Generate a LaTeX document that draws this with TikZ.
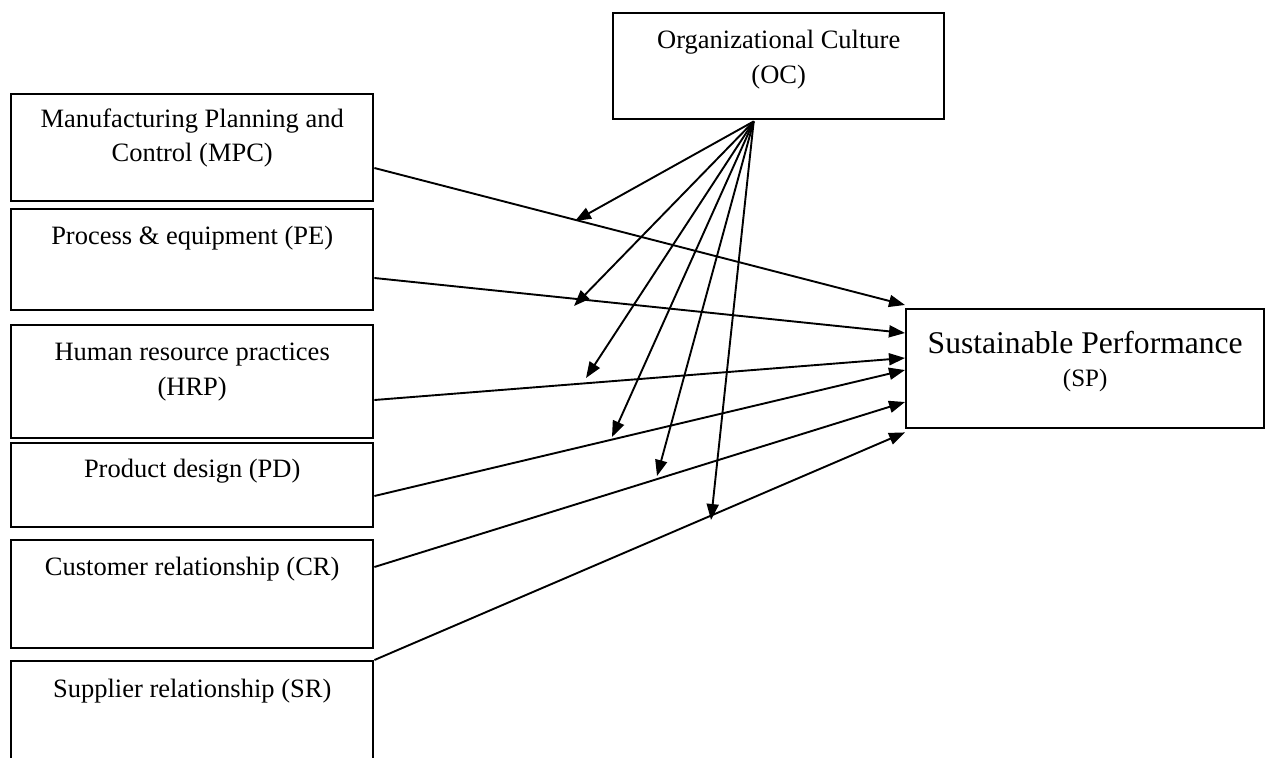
\documentclass[tikz,border=0pt]{standalone}
\usepackage{fontspec}
\setmainfont{Liberation Serif}
\usetikzlibrary{arrows.meta,calc}
\begin{document}
\begin{tikzpicture}[x=1pt,y=-1pt,
  box/.style={draw, line width=2.4pt, inner sep=0pt, anchor=north west},
  txt/.style={anchor=base, inner sep=0pt, font=\fontsize{26.5}{32}\selectfont},
  conn/.style={line width=1.9pt, -{Triangle[length=16pt,width=12pt]}}]
\path[fill=white, use as bounding box] (0,0) rectangle (1265,757);

% left boxes
\node[box, minimum width=362pt, minimum height=107pt] (mpc) at (10,93) {};
\node[box, minimum width=362pt, minimum height=101pt] (pe) at (10,208) {};
\node[box, minimum width=362pt, minimum height=113pt] (hrp) at (10,324) {};
\node[box, minimum width=362pt, minimum height=84pt] (pd) at (10,442) {};
\node[box, minimum width=362pt, minimum height=108pt] (cr) at (10,539) {};
\node[box, minimum width=362pt, minimum height=115pt] (sr) at (10,660) {};

% top and right boxes
\node[box, minimum width=331pt, minimum height=106pt] (oc) at (612,12) {};
\node[box, minimum width=358pt, minimum height=119pt] (sp) at (905,308) {};

% texts
\node[txt] (mpc1) at ($(mpc.north)+(0,35)$) {Manufacturing Planning and};
\node[txt] (mpc2) at ($(mpc.north)+(0,68)$) {Control (MPC)};
\node[txt] (pe1) at ($(pe.north)+(0,36)$) {Process \& equipment (PE)};
\node[txt] (hrp1) at ($(hrp.north)+(0,36)$) {Human resource practices};
\node[txt] (hrp2) at ($(hrp.north)+(0,71)$) {(HRP)};
\node[txt] (pd1) at ($(pd.north)+(0,35)$) {Product design (PD)};
\node[txt] (cr1) at ($(cr.north)+(0,36)$) {Customer relationship (CR)};
\node[txt] (sr1) at ($(sr.north)+(0,37)$) {Supplier relationship (SR)};
\node[txt] (oc1) at ($(oc.north)+(0,37)$) {Organizational Culture};
\node[txt] (oc2) at ($(oc.north)+(0,72)$) {(OC)};
\node[txt, font=\fontsize{31.6}{36}\selectfont] (sp1) at ($(sp.north)+(0,45)$) {Sustainable Performance};
\node[txt, font=\fontsize{25}{30}\selectfont] (sp2) at ($(sp.north)+(0,78)$) {(SP)};

% connectors to SP
\draw[conn] ($(mpc.north east)+(0,75)$) -- ($(sp.north west)+(0,-3)$);
\draw[conn] ($(pe.north east)+(0,70)$) -- ($(sp.north west)+(0,25)$);
\draw[conn] ($(hrp.north east)+(0,76)$) -- ($(sp.north west)+(0,50)$);
\draw[conn] ($(pd.north east)+(0,54)$) -- ($(sp.north west)+(0,62)$);
\draw[conn] ($(cr.north east)+(0,28)$) -- ($(sp.north west)+(0,94)$);
\draw[conn] (sr.north east) -- ($(sp.south west)+(0,3)$);

% moderator arrows
\coordinate (ocp) at ($(oc.south)+(-25,1)$);
\coordinate (t1) at (575,221);
\coordinate (t2) at (574,306);
\coordinate (t3) at (586,378);
\coordinate (t4) at (612,437);
\coordinate (t5) at (657,476);
\coordinate (t6) at (711,520);
\foreach \t in {t1,t2,t3,t4,t5,t6}
  \draw[conn] (ocp) -- (\t);
\end{tikzpicture}
\end{document}
